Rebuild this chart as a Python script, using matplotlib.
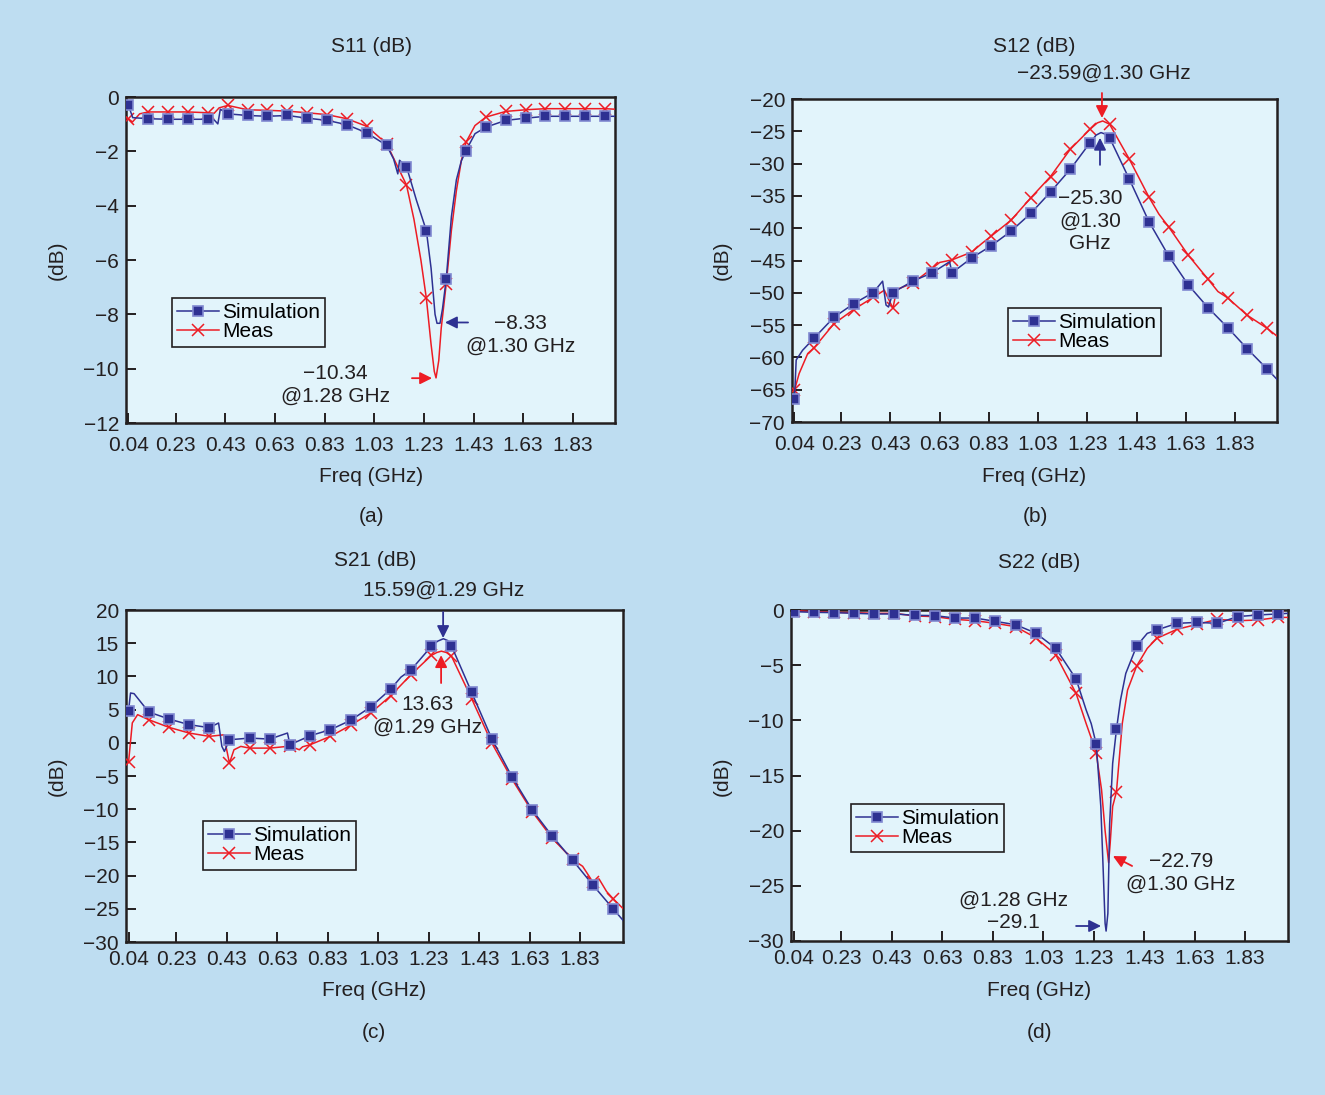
import numpy as np
import matplotlib
matplotlib.use('Agg')
import matplotlib.pyplot as plt

plt.rcParams['font.family'] = ['Liberation Sans', 'DejaVu Sans']

# ---------------- data ----------------
f_mk = [0.04, 0.12, 0.20, 0.28, 0.36, 0.44, 0.52, 0.60, 0.68, 0.76, 0.84, 0.92, 1.00,
        1.08, 1.16, 1.24, 1.32, 1.40, 1.48, 1.56, 1.64, 1.72, 1.80, 1.88, 1.96]
x_ticks = [0.04, 0.23, 0.43, 0.63, 0.83, 1.03, 1.23, 1.43, 1.63, 1.83]
x_ticklabels = ['0.04', '0.23', '0.43', '0.63', '0.83', '1.03', '1.23', '1.43', '1.63', '1.83']

# S11
s11_sim_mk = [-0.31, -0.80, -0.82, -0.82, -0.82, -0.62, -0.68, -0.71, -0.68, -0.78, -0.86, -1.02, -1.32,
              -1.78, -2.56, -4.92, -6.71, -1.97, -1.11, -0.86, -0.78, -0.71, -0.71, -0.71, -0.71]
s11_sim_ex_f = [0.057, 0.385, 0.40, 0.41, 1.108, 1.125, 1.132, 1.20, 1.259, 1.275, 1.283, 1.295,
                1.305, 1.341, 1.361, 1.381, 1.436, 2.0]
s11_sim_ex_v = [-0.76, -0.84, -0.99, -0.45, -2.28, -2.83, -2.33, -3.8, -6.3, -8.0, -8.33, -8.33,
                -7.8, -4.4, -3.05, -2.35, -1.35, -0.71]
s11_meas_mk = [-0.80, -0.55, -0.55, -0.55, -0.58, -0.31, -0.47, -0.49, -0.52, -0.58, -0.65, -0.80, -1.08,
               -1.72, -3.24, -7.41, -6.89, -1.66, -0.74, -0.53, -0.47, -0.43, -0.43, -0.43, -0.43]
s11_meas_ex_f = [0.03, 0.056, 0.085, 0.385, 0.405, 1.19, 1.218, 1.259, 1.272, 1.279, 1.29, 1.30,
                 1.341, 1.361, 1.381, 1.436, 2.0]
s11_meas_ex_v = [-0.74, -0.92, -0.62, -0.60, -0.40, -4.5, -6.0, -9.1, -10.1, -10.34, -9.7, -8.5,
                 -4.9, -3.45, -2.34, -1.05, -0.45]

# S12
s12_sim_mk = [-66.5, -57.0, -53.8, -51.7, -49.96, -49.96, -48.2, -46.9, -46.9, -44.6, -42.7, -40.45, -37.7,
              -34.4, -30.9, -26.8, -26.0, -32.4, -39.0, -44.3, -48.8, -52.3, -55.4, -58.7, -61.8]
s12_sim_ex_f = [0.047, 0.073, 0.398, 0.412, 0.422, 0.67, 1.265, 1.285, 1.30, 2.0]
s12_sim_ex_v = [-60.4, -58.9, -48.2, -51.9, -52.2, -45.2, -25.6, -25.2, -25.4, -63.4]
s12_meas_mk = [-65.1, -58.5, -54.8, -52.6, -50.7, -52.4, -48.5, -46.2, -44.9, -43.7, -41.2, -38.75, -35.3,
               -32.0, -27.8, -24.7, -23.9, -29.3, -35.2, -39.8, -44.2, -47.9, -50.8, -53.5, -55.5]
s12_meas_ex_f = [0.059, 0.094, 0.405, 0.455, 0.63, 0.80, 1.27, 1.292, 1.52, 1.76, 2.0]
s12_meas_ex_v = [-62.5, -59.4, -49.6, -49.5, -45.3, -42.4, -23.7, -23.4, -37.8, -49.8, -56.7]

# S21
s21_sim_mk = [4.84, 4.64, 3.59, 2.73, 2.28, 0.46, 0.71, 0.56, -0.29, 1.07, 1.97, 3.38, 5.40,
              8.12, 10.99, 14.51, 14.61, 7.61, 0.61, -5.13, -10.11, -14.09, -17.66, -21.39, -24.96]
s21_sim_ex_f = [0.048, 0.062, 0.397, 0.41, 0.42, 0.67, 1.12, 1.265, 1.288, 1.305, 2.0]
s21_sim_ex_v = [7.5, 7.4, 2.98, -0.54, -1.3, 1.47, 9.9, 15.3, 15.67, 15.4, -26.73]
s21_meas_mk = [-2.96, 3.48, 2.33, 1.47, 0.97, -3.06, -0.80, -0.80, -0.50, -0.29, 0.97, 2.63, 4.49,
               7.11, 10.28, 13.15, 13.05, 6.66, -0.04, -5.48, -10.36, -14.39, -17.56, -20.94, -23.45]
s21_meas_ex_f = [0.055, 0.076, 0.417, 0.458, 0.485, 0.717, 0.73, 1.262, 1.28, 1.30, 1.84, 1.905, 1.935, 2.0]
s21_meas_ex_v = [3.0, 4.24, 1.2, -1.05, -0.54, -1.05, -0.6, 13.6, 13.8, 13.6, -18.6, -20.5, -22.4, -24.96]

# S22
s22_sim_mk = [-0.15, -0.21, -0.24, -0.30, -0.36, -0.36, -0.48, -0.51, -0.73, -0.73, -1.03, -1.33, -2.09,
              -3.48, -6.26, -12.16, -10.83, -3.27, -1.81, -1.21, -1.12, -1.21, -0.60, -0.45, -0.36]
s22_sim_ex_f = [1.20, 1.22, 1.258, 1.268, 1.275, 1.279, 1.286, 1.293, 1.305, 1.336, 1.357, 1.442, 2.0]
s22_sim_ex_v = [-9.07, -10.3, -17.8, -23.9, -28.4, -29.1, -27.5, -19.4, -13.9, -8.16, -5.75, -2.12, -0.30]
s22_meas_mk = [-0.05, -0.15, -0.21, -0.24, -0.30, -0.30, -0.54, -0.60, -0.85, -0.97, -1.21, -1.51, -2.51,
               -4.08, -7.56, -13.0, -16.48, -5.08, -2.57, -1.75, -1.30, -0.85, -0.97, -0.91, -0.67]
s22_meas_ex_f = [1.20, 1.22, 1.261, 1.275, 1.289, 1.295, 1.305, 1.343, 1.364, 1.442, 2.0]
s22_meas_ex_v = [-10.3, -11.6, -16.3, -20.0, -22.9, -21.2, -17.8, -10.3, -7.26, -3.48, -0.67]

# ---------------- style ----------------
BG = '#BEDDF1'
AXBG = '#E2F4FB'
BLUE = '#2E3192'
BLUE_EDGE = '#8088D0'
RED = '#ED1C24'
INK = '#231F20'
FS = 15

W, H = 1325, 1095
fig = plt.figure(figsize=(W / 100, H / 100), dpi=100)
fig.patch.set_facecolor(BG)


def fx(px):
    return px / W


def fy(py):
    return 1 - py / H


def merged(fm, vm, fe, ve):
    f = np.concatenate([np.asarray(fm, float), np.asarray(fe, float)])
    v = np.concatenate([np.asarray(vm, float), np.asarray(ve, float)])
    order = np.argsort(f, kind='stable')
    is_mk = np.concatenate([np.ones(len(fm), bool), np.zeros(len(fe), bool)])[order]
    return f[order], v[order], np.nonzero(is_mk)[0].tolist()


def make_panel(box, ylim, yticks, sim, meas, leg, title, title_xy, xlabel_xy, sub, sub_xy, ylab_xy, xpad):
    l, t, r, b = box
    ax = fig.add_axes([fx(l), fy(b), fx(r - l), (b - t) / H])
    ax.set_facecolor(AXBG)
    fm, vm, mm = merged(*meas)
    fs_, vs_, ms_ = merged(*sim)
    lm, = ax.plot(fm, vm, color=RED, lw=1.1, marker='x', markersize=8, markeredgewidth=1.1,
                  markevery=mm, label='Meas', zorder=3)
    ls, = ax.plot(fs_, vs_, color=BLUE, lw=1.1, marker='s', markersize=7.5, markerfacecolor=BLUE,
                  markeredgecolor=BLUE_EDGE, markeredgewidth=1.2, markevery=ms_, label='Simulation', zorder=4)
    ax.set_xlim(0.03, 2.0)
    ax.set_ylim(*ylim)
    ax.set_xticks(x_ticks)
    ax.set_xticklabels(x_ticklabels)
    ax.set_yticks(yticks)
    ax.tick_params(direction='in', length=7, width=1.4, colors=INK, labelsize=FS, pad=5)
    ax.tick_params(axis='x', pad=xpad)
    for s in ax.spines.values():
        s.set_linewidth(1.8)
        s.set_color(INK)
    lg = ax.legend(handles=[ls, lm], loc='upper left', bbox_to_anchor=leg, borderaxespad=0,
                   fontsize=FS, frameon=True, fancybox=False, edgecolor=INK, facecolor=AXBG,
                   framealpha=1, handlelength=2.0, handletextpad=0.15, labelspacing=0.0,
                   borderpad=0.25)
    lg.get_frame().set_linewidth(1.2)
    fig.text(fx(title_xy[0]), fy(title_xy[1]), title, ha='center', va='center', fontsize=FS, color=INK)
    fig.text(fx(xlabel_xy[0]), fy(xlabel_xy[1]), 'Freq (GHz)', ha='center', va='center', fontsize=FS, color=INK)
    fig.text(fx(sub_xy[0]), fy(sub_xy[1]), sub, ha='center', va='center', fontsize=FS, color=INK)
    fig.text(fx(ylab_xy[0]), fy(ylab_xy[1]), '(dB)', ha='center', va='center', rotation=90,
             fontsize=FS, color=INK)
    return ax


def arrow(ax, tip, tail, color):
    ax.annotate('', xy=tip, xytext=tail, annotation_clip=False,
                arrowprops=dict(arrowstyle='-|>', color=color, lw=1.3, mutation_scale=18,
                                shrinkA=0, shrinkB=0), zorder=6)


def label(ax, xy, s):
    ax.text(xy[0], xy[1], s, ha='center', va='center', fontsize=FS, color=INK,
            linespacing=1.25, zorder=6, clip_on=False)


# (a) S11
axa = make_panel((126, 97, 615, 423), (-12, 0), [0, -2, -4, -6, -8, -10, -12],
                 (f_mk, s11_sim_mk, s11_sim_ex_f, s11_sim_ex_v),
                 (f_mk, s11_meas_mk, s11_meas_ex_f, s11_meas_ex_v),
                 (0.094, 0.383), 'S11 (dB)', (371, 47), (371, 476), '(a)', (371, 516), (57, 260), 9)
arrow(axa, (1.315, -8.30), (1.408, -8.30), BLUE)
label(axa, (1.621, -8.74), '\u22128.33\n@1.30 GHz')
arrow(axa, (1.263, -10.35), (1.182, -10.35), RED)
label(axa, (0.872, -10.6), '\u221210.34\n@1.28 GHz')

# (b) S12
axb = make_panel((792, 99, 1277, 422), (-70, -20), [-20, -25, -30, -35, -40, -45, -50, -55, -60, -65, -70],
                 (f_mk, s12_sim_mk, s12_sim_ex_f, s12_sim_ex_v),
                 (f_mk, s12_meas_mk, s12_meas_ex_f, s12_meas_ex_v),
                 (0.445, 0.353), 'S12 (dB)', (1034, 46), (1034, 476), '(b)', (1035, 516), (722, 260), 9)
arrow(axb, (1.289, -22.94), (1.289, -19.07), RED)
label(axb, (1.297, -15.98), '\u221223.59@1.30 GHz')
arrow(axb, (1.281, -26.0), (1.281, -30.2), BLUE)
label(axb, (1.24, -38.9), '\u221225.30\n@1.30\nGHz')

# (c) S21
axc = make_panel((126, 610, 623, 942), (-30, 20), [20, 15, 10, 5, 0, -5, -10, -15, -20, -25, -30],
                 (f_mk, s21_sim_mk, s21_sim_ex_f, s21_sim_ex_v),
                 (f_mk, s21_meas_mk, s21_meas_ex_f, s21_meas_ex_v),
                 (0.155, 0.364), 'S21 (dB)', (375, 561), (374, 991), '(c)', (374, 1032), (57, 776), 5.5)
arrow(axc, (1.287, 15.78), (1.287, 19.7), BLUE)
label(axc, (1.290, 23.0), '15.59@1.29 GHz')
arrow(axc, (1.279, 13.2), (1.279, 9.0), RED)
label(axc, (1.227, 4.04), '13.63\n@1.29 GHz')

# (d) S22
axd = make_panel((791, 610, 1288, 941), (-30, 0), [0, -5, -10, -15, -20, -25, -30],
                 (f_mk, s22_sim_mk, s22_sim_ex_f, s22_sim_ex_v),
                 (f_mk, s22_meas_mk, s22_meas_ex_f, s22_meas_ex_v),
                 (0.121, 0.414), 'S22 (dB)', (1039, 562), (1039, 991), '(d)', (1039, 1032), (722, 776), 6)
arrow(axd, (1.306, -22.3), (1.382, -23.2), RED)
label(axd, (1.576, -23.8), '\u221222.79\n@1.30 GHz')
arrow(axd, (1.259, -28.64), (1.16, -28.64), BLUE)
label(axd, (0.91, -27.3), '@1.28 GHz\n\u221229.1')

fig.savefig('out.png', dpi=100, facecolor=BG)
